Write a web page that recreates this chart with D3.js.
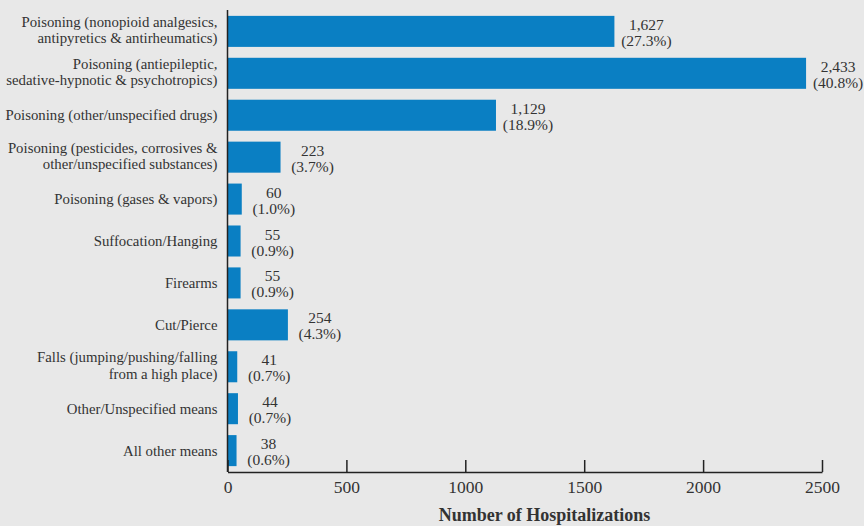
<!DOCTYPE html>
<html>
<head>
<meta charset="utf-8">
<script src="https://cdn.jsdelivr.net/npm/d3@7"></script>
<style>
  body { margin: 0; background: #e8e8e8; }
  svg { display: block; }
  text { font-family: "Liberation Serif", "DejaVu Serif", serif; fill: #333; }
</style>
</head>
<body>
<div id="chart"></div>
<script>
// chart data
const categories = [
  ["Poisoning (nonopioid analgesics,", "antipyretics & antirheumatics)"],
  ["Poisoning (antiepileptic,", "sedative-hypnotic & psychotropics)"],
  ["Poisoning (other/unspecified drugs)"],
  ["Poisoning (pesticides, corrosives &", "other/unspecified substances)"],
  ["Poisoning (gases & vapors)"],
  ["Suffocation/Hanging"],
  ["Firearms"],
  ["Cut/Pierce"],
  ["Falls (jumping/pushing/falling", "from a high place)"],
  ["Other/Unspecified means"],
  ["All other means"]
];
const counts = [1627, 2433, 1129, 223, 60, 55, 55, 254, 41, 44, 38];
const percents = ["27.3%", "40.8%", "18.9%", "3.7%", "1.0%", "0.9%", "0.9%", "4.3%", "0.7%", "0.7%", "0.6%"];
const xTicks = [0, 500, 1000, 1500, 2000, 2500];

const width = 864, height = 526;
const margin = { top: 10, right: 42, bottom: 54, left: 227.5 };

const svg = d3.select("#chart").append("svg")
  .attr("width", width)
  .attr("height", height);

svg.append("rect").attr("width", width).attr("height", height).attr("fill", "#e8e8e8");

const x = d3.scaleLinear()
  .domain([0, 2500])
  .range([margin.left, width - margin.right]);

const y = d3.scaleBand()
  .domain(d3.range(categories.length))
  .range([margin.top, height - margin.bottom])
  .paddingInner(0.26)
  .paddingOuter(0.14);

const fmt = d3.format(",");

// bars
svg.append("g").selectAll("rect")
  .data(counts)
  .join("rect")
  .attr("x", x(0))
  .attr("y", (d, i) => y(i))
  .attr("width", d => x(d) - x(0))
  .attr("height", y.bandwidth())
  .attr("fill", "#0a7fc3");

// value labels
const vl = svg.append("g").selectAll("text")
  .data(counts)
  .join("text")
  .attr("text-anchor", "middle")
  .attr("font-size", 15.5);
vl.append("tspan")
  .attr("x", d => x(d) + 32)
  .attr("y", (d, i) => y(i) + y.bandwidth() / 2 - 1.5)
  .text(d => fmt(d));
vl.append("tspan")
  .attr("x", d => x(d) + 32)
  .attr("y", (d, i) => y(i) + y.bandwidth() / 2 + 14.5)
  .text((d, i) => "(" + percents[i] + ")");

// category labels
const cl = svg.append("g").selectAll("text")
  .data(categories)
  .join("text")
  .attr("text-anchor", "end")
  .attr("font-size", 14.8);
cl.each(function (lines, i) {
  const t = d3.select(this);
  const cy = y(i) + y.bandwidth() / 2;
  const start = lines.length === 1 ? cy + 5 : cy - 4.5;
  lines.forEach((ln, j) => {
    t.append("tspan")
      .attr("x", margin.left - 10)
      .attr("y", start + j * 16.5)
      .text(ln);
  });
});

// x axis
const axisY = height - margin.bottom;
const xAxis = svg.append("g")
  .attr("transform", `translate(0,${axisY})`)
  .call(d3.axisBottom(x).tickValues(xTicks).tickFormat(d3.format("d")).tickSizeInner(-12).tickSizeOuter(0).tickPadding(9));
xAxis.select(".domain").attr("stroke", "#222").attr("stroke-width", 1.5);
xAxis.selectAll(".tick line").attr("stroke", "#222").attr("stroke-width", 1.5);
xAxis.selectAll(".tick text")
  .attr("font-size", 17.5)
  .attr("fill", "#333")
  .style("font-family", '"Liberation Serif", "DejaVu Serif", serif');

// y axis line
svg.append("line")
  .attr("x1", x(0)).attr("x2", x(0))
  .attr("y1", margin.top).attr("y2", axisY)
  .attr("stroke", "#222").attr("stroke-width", 1.5);

// axis title
svg.append("text")
  .attr("x", 544.5)
  .attr("y", 521)
  .attr("text-anchor", "middle")
  .attr("font-size", 18)
  .attr("font-weight", "bold")
  .text("Number of Hospitalizations");
</script>
</body>
</html>
